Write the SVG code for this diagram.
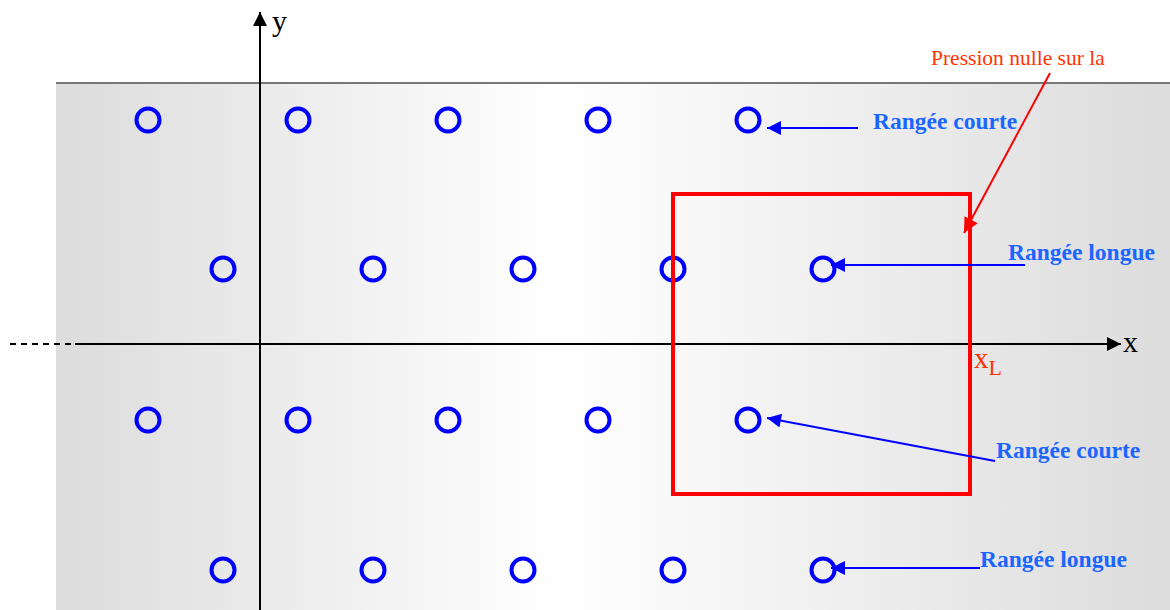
<svg xmlns="http://www.w3.org/2000/svg" width="1170" height="610" viewBox="0 0 1170 610">
<defs>
<linearGradient id="bg" x1="56" y1="0" x2="1170" y2="0" gradientUnits="userSpaceOnUse">
<stop offset="0" stop-color="#dcdcdc"/>
<stop offset="0.45" stop-color="#ffffff"/>
<stop offset="1" stop-color="#dcdcdc"/>
</linearGradient>
<marker id="ab" viewBox="0 0 10 10" refX="10" refY="5" markerWidth="17" markerHeight="14" markerUnits="userSpaceOnUse" orient="auto"><path d="M0,0 L10,5 L0,10 z" fill="#000"/></marker>
<marker id="abl" viewBox="0 0 10 10" refX="10" refY="5" markerWidth="16" markerHeight="14" markerUnits="userSpaceOnUse" orient="auto"><path d="M0,0 L10,5 L0,10 z" fill="#0000ff"/></marker>
<marker id="ar" viewBox="0 0 10 10" refX="10" refY="5" markerWidth="16" markerHeight="15" markerUnits="userSpaceOnUse" orient="auto"><path d="M0,0 L10,5 L0,10 z" fill="#ff0000"/></marker>
</defs>
<style>
.c{fill:none;stroke:#0000ff;stroke-width:4}
.lbl{font-family:"Liberation Serif",serif;font-weight:bold;font-size:23.5px;fill:#1a66ff}
.bl{stroke:#0000ff;stroke-width:2;fill:none}
.ax{stroke:#000;stroke-width:2;fill:none}
</style>
<rect x="56" y="83" width="1114" height="527" fill="url(#bg)"/>
<line x1="56" y1="83" x2="1170" y2="83" stroke="#777" stroke-width="2"/>
<g id="axes">
<line class="ax" x1="260" y1="610" x2="260" y2="12" marker-end="url(#ab)"/>
<line class="ax" x1="75" y1="344" x2="1121" y2="344" marker-end="url(#ab)"/>
<line x1="10" y1="344" x2="75" y2="344" stroke="#000" stroke-width="2" stroke-dasharray="6,5"/>
<text x="272" y="31" font-family="Liberation Serif,serif" font-size="30">y</text>
<text x="1123" y="352" font-family="Liberation Serif,serif" font-size="30">x</text>
</g>
<g id="rows">
<circle class="c" cx="148" cy="120" r="11.5"/><circle class="c" cx="298" cy="120" r="11.5"/><circle class="c" cx="448" cy="120" r="11.5"/><circle class="c" cx="598" cy="120" r="11.5"/><circle class="c" cx="748" cy="120" r="11.5"/>
<circle class="c" cx="223" cy="269" r="11.5"/><circle class="c" cx="373" cy="269" r="11.5"/><circle class="c" cx="523" cy="269" r="11.5"/><circle class="c" cx="673" cy="269" r="11.5"/><circle class="c" cx="823" cy="269" r="11.5"/>
<circle class="c" cx="148" cy="420" r="11.5"/><circle class="c" cx="298" cy="420" r="11.5"/><circle class="c" cx="448" cy="420" r="11.5"/><circle class="c" cx="598" cy="420" r="11.5"/><circle class="c" cx="748" cy="420" r="11.5"/>
<circle class="c" cx="223" cy="570" r="11.5"/><circle class="c" cx="373" cy="570" r="11.5"/><circle class="c" cx="523" cy="570" r="11.5"/><circle class="c" cx="673" cy="570" r="11.5"/><circle class="c" cx="823" cy="570" r="11.5"/>
</g>
<g id="cell">
<rect x="673" y="194" width="297" height="300" fill="none" stroke="#ff0000" stroke-width="4"/>
<text x="974" y="368" font-family="Liberation Serif,serif" font-size="29" fill="#ff3300">x<tspan font-size="22" dy="7">L</tspan></text>
</g>
<g id="connectors">
<line x1="1050" y1="73" x2="964" y2="233" stroke="#ff0000" stroke-width="2" marker-end="url(#ar)"/>
<line class="bl" x1="858" y1="128" x2="767" y2="128" marker-end="url(#abl)"/>
<line class="bl" x1="1025" y1="265" x2="831" y2="265" marker-end="url(#abl)"/>
<line class="bl" x1="995" y1="461" x2="767" y2="418" marker-end="url(#abl)"/>
<line class="bl" x1="980" y1="568" x2="831" y2="568" marker-end="url(#abl)"/>
</g>
<g id="labels">
<text x="931" y="65" font-family="Liberation Serif,serif" font-size="21.5" fill="#ff3300">Pression nulle sur la</text>
<text class="lbl" x="873" y="129">Rangée courte</text>
<text class="lbl" x="1008" y="260">Rangée longue</text>
<text class="lbl" x="996" y="458">Rangée courte</text>
<text class="lbl" x="980" y="567">Rangée longue</text>
</g>
</svg>
